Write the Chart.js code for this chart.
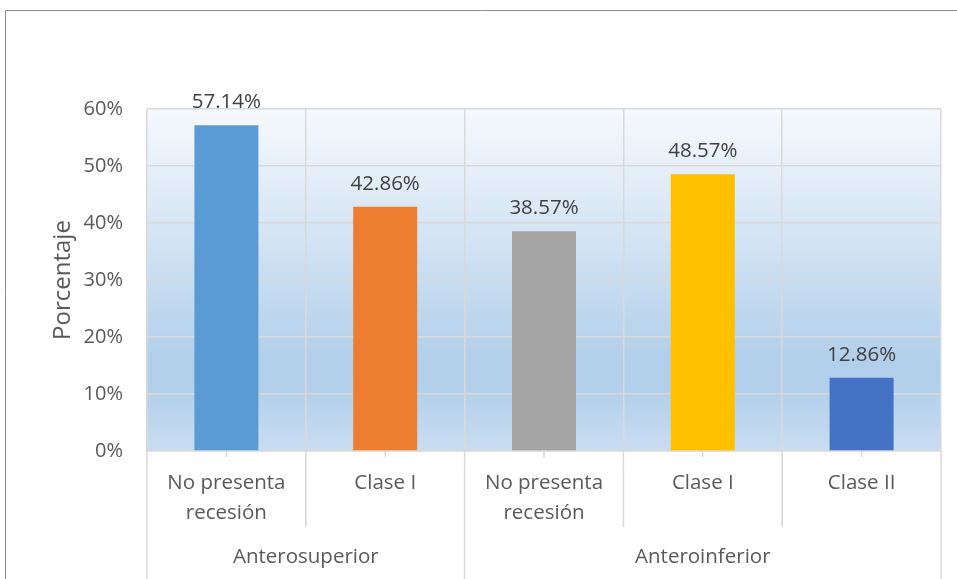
<!DOCTYPE html>
<html>
<head>
<meta charset="utf-8">
<script src="https://cdn.jsdelivr.net/npm/chart.js@4"></script>
<style>
  html, body { margin: 0; padding: 0; background: #fff; }
  #wrap { position: relative; width: 957px; height: 579px; }
</style>
</head>
<body>
<div id="wrap"><canvas id="graphe" width="957" height="579"></canvas></div>
<script>
// Datos del gráfico
const categorias = [['No presenta', 'recesión'], 'Clase I', ['No presenta', 'recesión'], 'Clase I', 'Clase II'];
const grupos = ['Anterosuperior', 'Anteroinferior'];
const tamGrupos = [2, 3];
const porcentajes = [57.14, 42.86, 38.57, 48.57, 12.86];
const colores = ['#5b9bd5', '#ed7d31', '#a5a5a5', '#ffc000', '#4472c4'];
const ticksY = [0, 10, 20, 30, 40, 50, 60];

const fuente = "'Open Sans', sans-serif";
const gris = '#d9d9d9';

// Fondo degradado + marco exterior
const fondo = {
    id: 'fondo',
    beforeDraw(chart) {
        const ctx = chart.ctx;
        const a = chart.chartArea;
        ctx.save();
        ctx.strokeStyle = '#8c8c8c';
        ctx.lineWidth = 1;
        ctx.beginPath();
        ctx.moveTo(5.5, 579);
        ctx.lineTo(5.5, 10.5);
        ctx.lineTo(957, 10.5);
        ctx.stroke();
        const g = ctx.createLinearGradient(0, a.top, 0, a.bottom);
        g.addColorStop(0, '#f6f9fd');
        g.addColorStop(0.74, '#b1cfea');
        g.addColorStop(0.83, '#b3d0eb');
        g.addColorStop(1, '#c9ddf1');
        ctx.fillStyle = g;
        ctx.fillRect(a.left, a.top, a.right - a.left, a.bottom - a.top);
        ctx.restore();
    }
};

// Etiquetas de valores, separadores y grupos del eje X
const extras = {
    id: 'extras',
    afterDraw(chart) {
        const ctx = chart.ctx;
        const a = chart.chartArea;
        const x = chart.scales.x;
        const meta = chart.getDatasetMeta(0);
        ctx.save();
        // valores encima de las barras
        ctx.fillStyle = '#404040';
        ctx.font = '20.5px ' + fuente;
        ctx.textAlign = 'center';
        ctx.textBaseline = 'middle';
        meta.data.forEach((bar, i) => {
            ctx.fillText(porcentajes[i].toFixed(2) + '%', bar.x, bar.y - 23);
        });
        // separadores bajo el eje
        const paso = (a.right - a.left) / categorias.length;
        ctx.strokeStyle = gris;
        ctx.lineWidth = 1.5;
        const bordes = [0];
        let acc = 0;
        tamGrupos.forEach(n => { acc += n; bordes.push(acc); });
        for (let i = 0; i <= categorias.length; i++) {
            const px = x.getPixelForValue(i) - paso / 2;
            const fin = bordes.includes(i) ? 579 : 527;
            ctx.beginPath();
            ctx.moveTo(px, a.bottom);
            ctx.lineTo(px, fin);
            ctx.stroke();
        }
        // marcas pequeñas en el centro de cada categoría
        for (let i = 0; i < categorias.length; i++) {
            const px = x.getPixelForValue(i);
            ctx.beginPath();
            ctx.moveTo(px, a.bottom);
            ctx.lineTo(px, a.bottom + 6);
            ctx.stroke();
        }
        // nombres de los grupos
        ctx.fillStyle = '#595959';
        ctx.font = '20.5px ' + fuente;
        ctx.textBaseline = 'middle';
        let ini = 0;
        grupos.forEach((g, k) => {
            const fin = ini + tamGrupos[k] - 1;
            const cx = (x.getPixelForValue(ini) + x.getPixelForValue(fin)) / 2;
            ctx.fillText(g, cx, 557);
            ini += tamGrupos[k];
        });
        ctx.restore();
    }
};

new Chart(document.getElementById('graphe').getContext('2d'), {
    type: 'bar',
    data: {
        labels: categorias,
        datasets: [{
            label: 'Porcentaje',
            data: porcentajes,
            backgroundColor: colores,
            borderWidth: 0,
            barPercentage: 0.403,
            categoryPercentage: 1
        }]
    },
    options: {
        responsive: false,
        animation: false,
        devicePixelRatio: 1,
        layout: { padding: { top: 109, right: 16, left: 0, bottom: 0 } },
        plugins: {
            legend: { display: false },
            tooltip: { enabled: false }
        },
        scales: {
            x: {
                afterFit: s => { s.height = 128; },
                grid: { offset: true, color: gris, lineWidth: 1.5, drawTicks: false },
                border: { color: gris, width: 1.5 },
                ticks: {
                    color: '#595959',
                    padding: 17,
                    font: { family: fuente, size: 20.5, lineHeight: 1.46 },
                    maxRotation: 0,
                    autoSkip: false
                }
            },
            y: {
                min: 0,
                max: 60,
                afterFit: s => { s.width = 147; },
                afterBuildTicks: s => { s.ticks = ticksY.map(v => ({ value: v })); },
                grid: { color: gris, lineWidth: 1.5, drawTicks: false },
                border: { display: false },
                ticks: {
                    color: '#595959',
                    padding: 24,
                    font: { family: fuente, size: 20 },
                    callback: v => v + '%'
                },
                title: {
                    display: true,
                    text: 'Porcentaje',
                    color: '#595959',
                    font: { family: fuente, size: 24 },
                    padding: { top: 49, bottom: 0 }
                }
            }
        }
    },
    plugins: [fondo, extras]
});
</script>
</body>
</html>
